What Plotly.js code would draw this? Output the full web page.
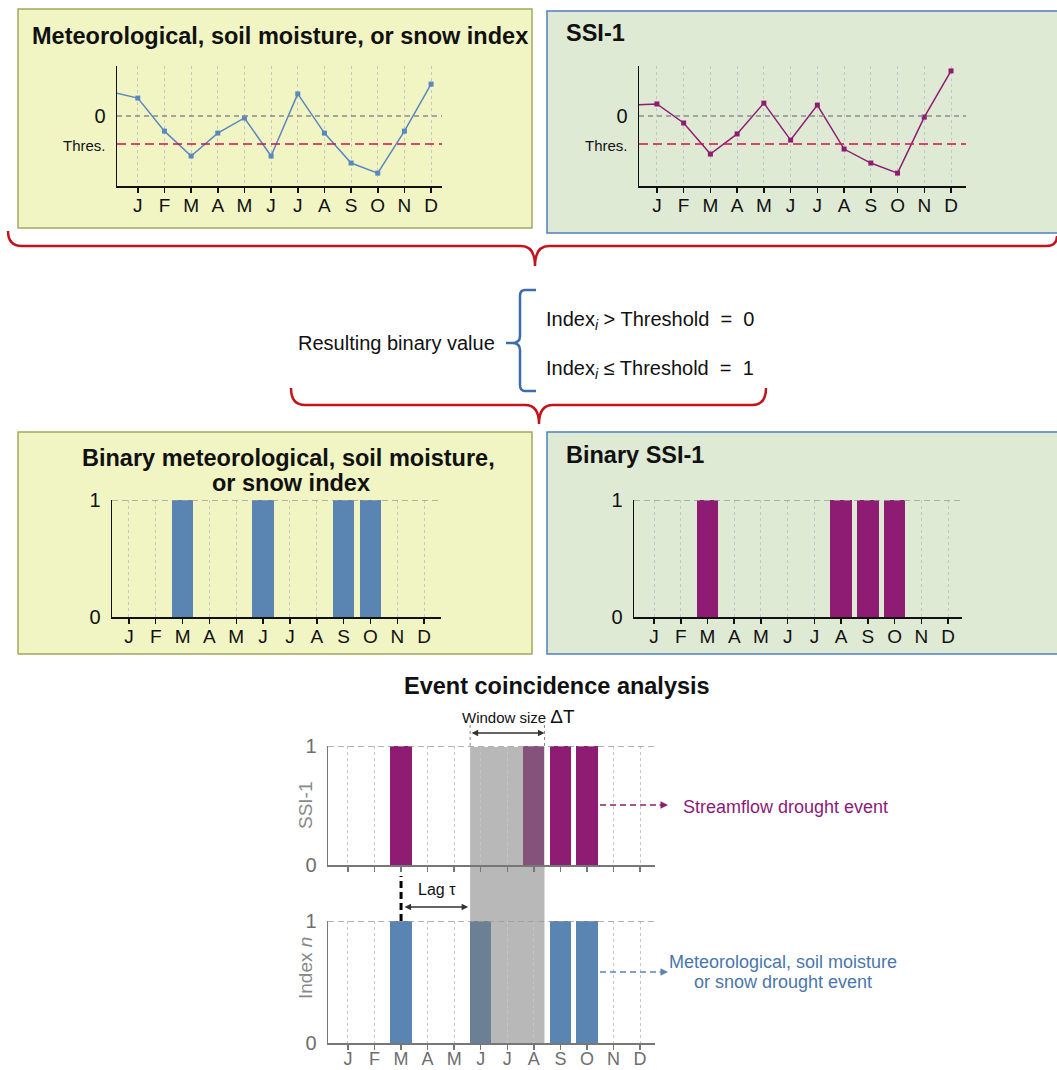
<!DOCTYPE html>
<html>
<head>
<meta charset="utf-8">
<script src="https://cdn.plot.ly/plotly-3.0.1.min.js"></script>
<style>html,body{margin:0;padding:0;background:#fff;}#chart{width:1057px;height:1070px;}</style>
</head>
<body>
<div id="chart"></div>
<script>
// ---------------- DATA ----------------
const months = ['J','F','M','A','M','J','J','A','S','O','N','D'];
const metPrev = 0.86;   // value of the month before January (line enters from the axis)
const metIndex = [0.64, -0.54, -1.43, -0.61, -0.07, -1.43, 0.79, -0.61, -1.68, -2.04, -0.54, 1.14];
const ssiPrev = 0.39;
const ssiIndex = [0.43, -0.25, -1.36, -0.64, 0.46, -0.86, 0.39, -1.18, -1.68, -2.04, -0.04, 1.61];
const threshold = -1;
const triggerMonth = 2;   // March event in Index n
const lagMonths = 3;      // lag tau
const windowMonths = 3;   // window size Delta T

// ---------------- HELPERS ----------------
const W = 1057, H = 1070;
const X = px => px / W;
const Y = py => 1 - py / H;
const FONT = 'Liberation Sans, Arial, sans-serif';
const BLUE = '#5a84b1', PURPLE = '#8e1c72', LINEBLUE = '#5b87c0';
const BLUE_OV = '#6c8095', PURPLE_OV = '#85527b';
const GRAYTXT = '#6e6e6e';
const barW = 0.8;

const xIdx = months.map((m, i) => i);
const metBin = metIndex.map(v => v <= threshold ? 1 : 0);
const ssiBin = ssiIndex.map(v => v <= threshold ? 1 : 0);
const winStart = triggerMonth + lagMonths;
const winEnd = winStart + windowMonths - 1;
const inWin = i => i >= winStart && i <= winEnd;

function xax(pxL, pxR, range, opts) {
  return Object.assign({
    domain: [X(pxL), X(pxR)], range: range, tickvals: xIdx, ticktext: months,
    ticks: 'outside', ticklen: 5, tickcolor: '#111', tickwidth: 1.5,
    showline: true, linecolor: '#111', linewidth: 1.5,
    showgrid: true, gridcolor: '#c6c6c6', griddash: 'dot', gridwidth: 1,
    zeroline: false, fixedrange: true, ticklabelstandoff: -3,
    tickfont: {family: FONT, size: 19, color: '#111'}
  }, opts || {});
}
function yax(pxT, pxB, range, tv, tt, opts) {
  return Object.assign({
    domain: [Y(pxB), Y(pxT)], range: range, tickvals: tv, ticktext: tt,
    ticks: '', showline: true, linecolor: '#111', linewidth: 1.5,
    showgrid: false, zeroline: false, fixedrange: true, ticklabelstandoff: 6,
    tickfont: {family: FONT, size: 20, color: '#111'}
  }, opts || {});
}

const traces = [
  {type: 'scatter', mode: 'lines+markers', x: [-1].concat(xIdx), y: [metPrev].concat(metIndex),
   xaxis: 'x', yaxis: 'y', line: {color: LINEBLUE, width: 1.5},
   marker: {symbol: 'square', size: 5, color: LINEBLUE}, hoverinfo: 'skip'},
  {type: 'scatter', mode: 'lines+markers', x: [-1].concat(xIdx), y: [ssiPrev].concat(ssiIndex),
   xaxis: 'x2', yaxis: 'y2', line: {color: PURPLE, width: 1.5},
   marker: {symbol: 'square', size: 5, color: PURPLE}, hoverinfo: 'skip'},
  {type: 'bar', x: xIdx, y: metBin, width: barW, xaxis: 'x3', yaxis: 'y3',
   marker: {color: BLUE, line: {width: 0}}, hoverinfo: 'skip'},
  {type: 'bar', x: xIdx, y: ssiBin, width: barW, xaxis: 'x4', yaxis: 'y4',
   marker: {color: PURPLE, line: {width: 0}}, hoverinfo: 'skip'},
  {type: 'bar', x: xIdx, y: ssiBin, width: barW, xaxis: 'x5', yaxis: 'y5',
   marker: {color: xIdx.map(i => inWin(i) ? PURPLE_OV : PURPLE), line: {width: 0}}, hoverinfo: 'skip'},
  {type: 'bar', x: xIdx, y: metBin, width: barW, xaxis: 'x6', yaxis: 'y6',
   marker: {color: xIdx.map(i => inWin(i) ? BLUE_OV : BLUE), line: {width: 0}}, hoverinfo: 'skip'}
];

const topRange = [-2.5, 1.786];
const thresTT = ['0', '<span style="font-size:15px">Thres.</span>'];
const grayAx = {linecolor: '#777', tickcolor: '#777', tickfont: {family: FONT, size: 18, color: GRAYTXT}};
const grayAy = {linecolor: '#777', tickfont: {family: FONT, size: 20, color: GRAYTXT}};

const layout = {
  width: W, height: H, margin: {l: 0, r: 0, t: 0, b: 0},
  paper_bgcolor: '#ffffff', plot_bgcolor: 'rgba(0,0,0,0)', showlegend: false, bargap: 0,
  font: {family: FONT},
  xaxis: xax(117, 442, [-0.78, 11.41], {anchor: 'y'}),
  yaxis: yax(66, 186, topRange, [0, threshold], thresTT, {anchor: 'x'}),
  xaxis2: xax(639, 966, [-0.67, 11.56], {anchor: 'y2'}),
  yaxis2: yax(66, 186, topRange, [0, threshold], thresTT, {anchor: 'x2'}),
  xaxis3: xax(112, 441, [-0.63, 11.63], {anchor: 'y3'}),
  yaxis3: yax(500, 617, [0, 1], [0, 1], ['0', '1'], {anchor: 'x3'}),
  xaxis4: xax(634, 962, [-0.75, 11.52], {anchor: 'y4'}),
  yaxis4: yax(500, 617, [0, 1], [0, 1], ['0', '1'], {anchor: 'x4'}),
  xaxis5: xax(328, 655, [-0.75, 11.56], Object.assign({anchor: 'y5', showticklabels: false}, grayAx)),
  yaxis5: yax(746, 865, [0, 1], [0, 1], ['0', '1'], Object.assign({anchor: 'x5'}, grayAy)),
  xaxis6: xax(328, 655, [-0.75, 11.56], Object.assign({anchor: 'y6', ticklabelstandoff: -6}, grayAx)),
  yaxis6: yax(921, 1043, [0, 1], [0, 1], ['0', '1'], Object.assign({anchor: 'x6'}, grayAy)),
  shapes: [],
  annotations: []
};

const S = layout.shapes, A = layout.annotations;
// panels
S.push({type: 'rect', xref: 'paper', yref: 'paper', x0: X(18), x1: X(532), y0: Y(228), y1: Y(9),
  fillcolor: '#f0f5c3', line: {color: '#a3a862', width: 1.5}, layer: 'below'});
S.push({type: 'rect', xref: 'paper', yref: 'paper', x0: X(547), x1: X(1062), y0: Y(233), y1: Y(11),
  fillcolor: '#dfead5', line: {color: '#4f7fc0', width: 1.5}, layer: 'below'});
S.push({type: 'rect', xref: 'paper', yref: 'paper', x0: X(18), x1: X(532), y0: Y(654), y1: Y(432),
  fillcolor: '#f0f5c3', line: {color: '#a3a862', width: 1.5}, layer: 'below'});
S.push({type: 'rect', xref: 'paper', yref: 'paper', x0: X(547), x1: X(1062), y0: Y(654), y1: Y(432),
  fillcolor: '#dfead5', line: {color: '#4f7fc0', width: 1.5}, layer: 'below'});

// reference / threshold lines
['', '2'].forEach(k => {
  S.push({type: 'line', xref: 'x' + k + ' domain', yref: 'y' + k, x0: 0, x1: 1, y0: 0, y1: 0,
    line: {color: '#8c8c8c', width: 1.3, dash: '5px,4px'}});
  S.push({type: 'line', xref: 'x' + k + ' domain', yref: 'y' + k, x0: 0, x1: 1, y0: threshold, y1: threshold,
    line: {color: '#d0124e', width: 1.5, dash: '9px,5px'}});
});
['3', '4', '5', '6'].forEach(k => {
  S.push({type: 'line', xref: 'x' + k + ' domain', yref: 'y' + k, x0: 0, x1: 1, y0: 1, y1: 1,
    line: {color: '#9a9a9a', width: 1.5, dash: '6px,4px'}, layer: 'above'});
});

// window shading across both ECA plots
const wx0 = winStart - barW / 2, wx1 = winEnd + barW / 2;
S.push({type: 'rect', xref: 'x5', yref: 'paper', x0: wx0, x1: wx1, y0: Y(1043), y1: Y(747),
  fillcolor: '#b8b8b8', line: {width: 0}, layer: 'below'});
// window edges
[wx0, wx1].forEach(v => S.push({type: 'line', xref: 'x5', yref: 'paper', x0: v, x1: v, y0: Y(746), y1: Y(725),
  line: {color: '#888', width: 1, dash: 'dot'}}));
// trigger dashed line
S.push({type: 'line', xref: 'x6', yref: 'paper', x0: triggerMonth, x1: triggerMonth, y0: Y(921), y1: Y(876),
  line: {color: '#000', width: 3, dash: '7px,4px'}});
// dashed pointers
S.push({type: 'line', xref: 'paper', yref: 'paper', x0: X(600), x1: X(660), y0: Y(805), y1: Y(805),
  line: {color: PURPLE, width: 1.5, dash: '6px,4px'}});
S.push({type: 'line', xref: 'paper', yref: 'paper', x0: X(600), x1: X(660), y0: Y(972), y1: Y(972),
  line: {color: BLUE, width: 1.5, dash: '6px,4px'}});

// braces
function pth(cmds) {
  return cmds.map(c => c[0] + ' ' + c.slice(1).map((v, i) => i % 2 === 0 ? X(v) : Y(v)).join(',')).join(' ');
}
const braceRed1 = pth([['M', 8, 231], ['Q', 8, 246, 22, 246], ['L', 521, 246], ['Q', 535, 246, 535, 266],
  ['Q', 535, 246, 549, 246], ['L', 1046, 246], ['Q', 1057, 246, 1057, 236]]);
const braceRed2 = pth([['M', 291, 388], ['Q', 291, 405, 305, 405], ['L', 525, 405], ['Q', 539, 405, 539, 424],
  ['Q', 539, 405, 553, 405], ['L', 752, 405], ['Q', 766, 405, 766, 388]]);
const braceBlue = pth([['M', 536, 290], ['L', 525, 290], ['Q', 520, 290, 520, 296], ['L', 520, 336],
  ['Q', 520, 343, 512, 343], ['L', 506, 343], ['M', 512, 343], ['Q', 520, 343, 520, 350], ['L', 520, 385],
  ['Q', 520, 391, 525, 391], ['L', 536, 391]]);
S.push({type: 'path', xref: 'paper', yref: 'paper', path: braceRed1, line: {color: '#c3141c', width: 2.5}});
S.push({type: 'path', xref: 'paper', yref: 'paper', path: braceRed2, line: {color: '#c3141c', width: 2.5}});
S.push({type: 'path', xref: 'paper', yref: 'paper', path: braceBlue, line: {color: '#3b6cab', width: 2.5}});

// texts
function txt(t, px, py, size, opts) {
  A.push(Object.assign({text: t, xref: 'paper', yref: 'paper', x: X(px), y: Y(py), showarrow: false,
    xanchor: 'center', yanchor: 'middle', font: {family: FONT, size: size, color: '#111'}}, opts || {}));
}
txt('<b>Meteorological, soil moisture, or snow index</b>', 280, 36, 23.5);
txt('<b>SSI-1</b>', 564, 33, 23.5, {xanchor: 'left'});
txt('<b>Binary meteorological, soil moisture,</b>', 288, 458, 23.5);
txt('<b>or snow index</b>', 291, 483, 23.5);
txt('<b>Binary SSI-1</b>', 564, 455, 23.5, {xanchor: 'left'});
txt('<b>Event coincidence analysis</b>', 557, 686, 23.5);
txt('Resulting binary value', 396, 343, 20);
txt('Index<sub><i>i</i></sub> &gt; Threshold\u00a0 =\u00a0 0', 544, 320, 20, {xanchor: 'left'});
txt('Index<sub><i>i</i></sub> \u2264 Threshold\u00a0 =\u00a0 1', 544, 370, 20, {xanchor: 'left'});
txt('Window size <span style="font-size:19px">\u0394T</span>', 460, 716, 15, {xanchor: 'left'});
txt('Lag \u03c4', 437, 889, 16);
txt('SSI-1', 305, 805, 19, {textangle: -90, font: {family: FONT, size: 19, color: '#888'}});
txt('Index <i>n</i>', 305, 968, 19, {textangle: -90, font: {family: FONT, size: 19, color: '#888'}});
txt('Streamflow drought event', 681, 807, 18, {xanchor: 'left', font: {family: FONT, size: 18, color: '#8b1a7a'}});
txt('Meteorological, soil moisture', 783, 962, 18, {font: {family: FONT, size: 18, color: '#4a76ad'}});
txt('or snow drought event', 783, 982, 18, {font: {family: FONT, size: 18, color: '#4a76ad'}});

// arrows
A.push({text: '', xref: 'x5', yref: 'paper', x: wx1, y: Y(733), axref: 'x5', ax: wx0, ayref: 'pixel', ay: 0,
  showarrow: true, arrowside: 'end+start', arrowhead: 2, arrowsize: 1, arrowwidth: 1.3, arrowcolor: '#333'});
A.push({text: '', xref: 'x6', yref: 'paper', x: wx0, y: Y(907), axref: 'x6', ax: triggerMonth, ayref: 'pixel', ay: 0,
  showarrow: true, arrowside: 'end+start', arrowhead: 2, arrowsize: 1, arrowwidth: 1.3, arrowcolor: '#333',
  standoff: 2, startstandoff: 2});
A.push({text: '', xref: 'paper', yref: 'paper', x: X(668), y: Y(805), ax: -10, ay: 0, showarrow: true,
  arrowhead: 2, arrowsize: 1, arrowwidth: 1.5, arrowcolor: PURPLE});
A.push({text: '', xref: 'paper', yref: 'paper', x: X(668), y: Y(972), ax: -10, ay: 0, showarrow: true,
  arrowhead: 2, arrowsize: 1, arrowwidth: 1.5, arrowcolor: BLUE});

Plotly.newPlot('chart', traces, layout, {staticPlot: true, displayModeBar: false});
</script>
</body>
</html>
